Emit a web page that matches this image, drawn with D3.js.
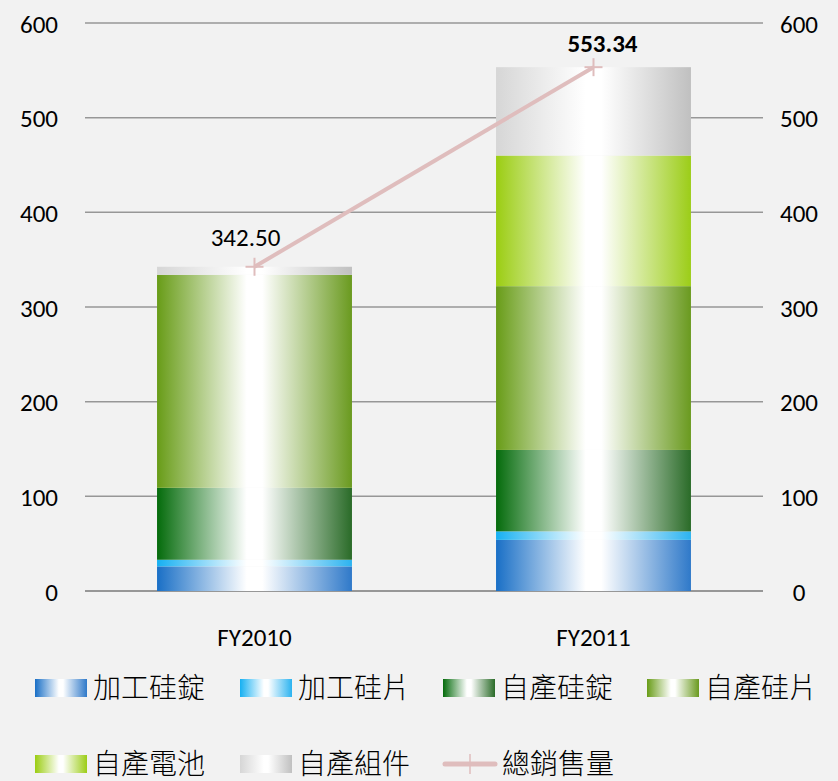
<!DOCTYPE html>
<html>
<head>
<meta charset="utf-8">
<script src="https://cdn.jsdelivr.net/npm/d3@7"></script>
<style>
  html, body { margin: 0; padding: 0; background: #f2f2f2; }
  svg { display: block; }
</style>
</head>
<body>
<div id="chart"></div>
<script>
var years = ["FY2010", "FY2011"]
var seriesNames = ["加工硅錠", "加工硅片", "自產硅錠", "自產硅片", "自產電池", "自產組件"]
// values per series, one per year
var processedIngot = [26, 54]
var processedWafer = [7, 9]
var ownIngot = [76, 86]
var ownWafer = [225, 173]
var ownCell = [0, 138]
var ownModule = [8.5, 93.34]
var totalSales = [342.50, 553.34]
var totalLabels = ["342.50", "553.34"]
var yTicks = [0, 100, 200, 300, 400, 500, 600]
var lineName = "總銷售量"

var seriesValues = [processedIngot, processedWafer, ownIngot, ownWafer, ownCell, ownModule]
// gradient: [left edge, right edge]
var seriesColors = [
  ["#196fc6", "#2f79c9"],
  ["#16b0f2", "#2cb3f0"],
  ["#046b0b", "#2a6b28"],
  ["#689c17", "#6a9a1f"],
  ["#9bcd12", "#9ccd18"],
  ["#d6d6d6", "#c0c0c0"]
]
var lineColor = "#dfbdbd"

var W = 838, H = 781
var svg = d3.select("#chart").append("svg").attr("width", W).attr("height", H)
svg.append("rect").attr("width", W).attr("height", H).attr("fill", "#f2f2f2")

var defs = svg.append("defs")
seriesColors.forEach(function(c, i) {
  var g = defs.append("linearGradient").attr("id", "grad" + i)
    .attr("x1", "0%").attr("x2", "100%").attr("y1", "0%").attr("y2", "0%")
  g.append("stop").attr("offset", "0%").attr("stop-color", c[0])
  g.append("stop").attr("offset", "46%").attr("stop-color", "#ffffff")
  g.append("stop").attr("offset", "54%").attr("stop-color", "#ffffff")
  g.append("stop").attr("offset", "100%").attr("stop-color", c[1])
})

var x = d3.scaleBand().domain(years).range([85, 763]).paddingInner(0.425).paddingOuter(0.2125)
var y = d3.scaleLinear().domain([0, 600]).range([591, 23])

var font = "Carlito, Calibri, Lato, 'Open Sans', sans-serif"
var cjk = "'Noto Sans CJK TC', 'Noto Sans CJK SC', sans-serif"

// grid
svg.append("g").selectAll("line").data(yTicks).enter().append("line")
  .attr("x1", 85).attr("x2", 763)
  .attr("y1", function(d) { return y(d) }).attr("y2", function(d) { return y(d) })
  .attr("stroke", "#979797").attr("stroke-width", function(d) { return d === 0 ? 2 : 1.5 })

// left + right axes
var left = d3.axisLeft(y).tickValues(yTicks).tickSize(0).tickPadding(0)
svg.append("g").attr("transform", "translate(58,0)").call(left)
  .call(function(g) { g.select(".domain").remove() })
  .selectAll("text").attr("font-family", font).attr("font-size", 25).attr("fill", "#000").attr("dy", "0.36em")
var right = d3.axisRight(y).tickValues(yTicks).tickSize(0).tickPadding(0)
svg.append("g").attr("transform", "translate(799,0)").call(right)
  .call(function(g) { g.select(".domain").remove() })
  .selectAll("text").attr("font-family", font).attr("font-size", 25).attr("fill", "#000")
  .attr("dy", "0.36em").attr("text-anchor", "middle")

// stacked bars
var rows = years.map(function(yr, j) {
  var r = { year: yr }
  seriesNames.forEach(function(s, i) { r[s] = seriesValues[i][j] })
  return r
})
var stacked = d3.stack().keys(seriesNames)(rows)
svg.append("g").selectAll("g").data(stacked).enter().append("g")
  .attr("fill", function(d, i) { return "url(#grad" + i + ")" })
  .selectAll("rect").data(function(d) { return d }).enter().append("rect")
  .attr("x", function(d) { return x(d.data.year) })
  .attr("width", x.bandwidth())
  .attr("y", function(d) { return y(d[1]) })
  .attr("height", function(d) { return y(d[0]) - y(d[1]) })

// x labels
svg.append("g").selectAll("text").data(years).enter().append("text")
  .attr("x", function(d) { return x(d) + x.bandwidth() / 2 })
  .attr("y", 646).attr("text-anchor", "middle")
  .attr("font-family", font).attr("font-size", 25).attr("fill", "#000")
  .text(function(d) { return d })

// total line
var line = d3.line()
  .x(function(d, i) { return x(years[i]) + x.bandwidth() / 2 })
  .y(function(d) { return y(d) })
svg.append("path").datum(totalSales).attr("d", line)
  .attr("fill", "none").attr("stroke", lineColor).attr("stroke-width", 4)
var marks = svg.append("g").selectAll("g").data(totalSales).enter().append("g")
  .attr("transform", function(d, i) { return "translate(" + (x(years[i]) + x.bandwidth() / 2) + "," + y(d) + ")" })
marks.append("line").attr("x1", -9).attr("x2", 9).attr("stroke", lineColor).attr("stroke-width", 2)
marks.append("line").attr("y1", -9).attr("y2", 9).attr("stroke", lineColor).attr("stroke-width", 2)

svg.append("g").selectAll("text").data(totalSales).enter().append("text")
  .attr("x", function(d, i) { return x(years[i]) + x.bandwidth() / 2 + (i === 0 ? -9 : 9) })
  .attr("y", function(d, i) { return y(d) - (i === 0 ? 21 : 15) })
  .attr("text-anchor", "middle")
  .attr("font-family", font).attr("font-size", 25).attr("fill", "#000")
  .attr("font-weight", function(d, i) { return i === 1 ? "bold" : "normal" })
  .text(function(d, i) { return totalLabels[i] })

// legend
var legendItems = seriesNames.map(function(s, i) { return { name: s, idx: i } })
legendItems.push({ name: lineName, idx: -1 })
var colX = [35, 240, 443, 647]
var leg = svg.append("g").selectAll("g").data(legendItems).enter().append("g")
  .attr("transform", function(d, i) { return "translate(" + colX[i % 4] + "," + (i < 4 ? 688 : 764) + ")" })
leg.filter(function(d) { return d.idx >= 0 }).append("rect")
  .attr("x", 0).attr("y", -9).attr("width", 52).attr("height", 18)
  .attr("fill", function(d) { return "url(#grad" + d.idx + ")" })
var lg = leg.filter(function(d) { return d.idx < 0 })
lg.append("line").attr("x1", 2).attr("x2", 52).attr("y1", 0).attr("y2", 0)
  .attr("stroke", lineColor).attr("stroke-width", 5).attr("stroke-linecap", "round")
lg.append("line").attr("x1", 27).attr("x2", 27).attr("y1", -10).attr("y2", 10)
  .attr("stroke", lineColor).attr("stroke-width", 1.5)
leg.append("text")
  .attr("x", function(d) { return d.idx < 0 ? 59 : 58 }).attr("y", 0).attr("dy", "0.36em")
  .attr("font-family", cjk).attr("font-size", 28).attr("font-weight", 300).attr("fill", "#000")
  .text(function(d) { return d.name })
</script>
</body>
</html>
